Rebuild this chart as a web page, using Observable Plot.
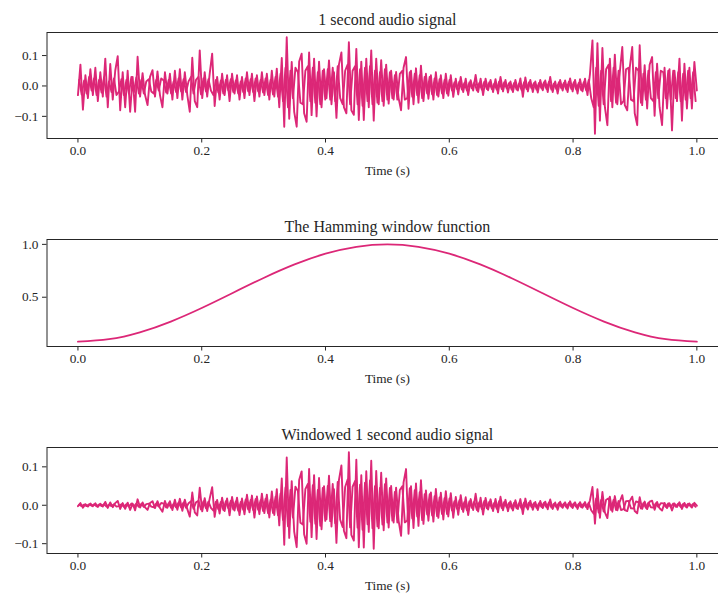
<!DOCTYPE html>
<html><head><meta charset="utf-8">
<script src="https://cdn.jsdelivr.net/npm/d3@7"></script>
<script src="https://cdn.jsdelivr.net/npm/@observablehq/plot@0.6"></script>
<style>
html,body{margin:0;padding:0;background:#fff;overflow:hidden;width:718px;height:594px;}
#chart svg{display:block;overflow:hidden}
</style></head><body><div id="chart"></div>
<script>
// 1 second audio signal: main samples
const audioSignal = [
-0.03, 0.07, -0.078, 0.035, -0.04, 0.055, -0.03, 0.06, -0.05, 0.045, -0.035, 0.09, -0.07, 0.072, -0.045, 0.05, 0.098, -0.08, 0.045, -0.07, 0.05, -0.085, 0.03, -0.085, 0.096,
-0.035, 0.042, -0.03, -0.063, 0.03, 0.052, -0.035, 0.048, -0.03, -0.07, 0.045, -0.025, 0.04, -0.045, 0.05, -0.04, 0.055, -0.045, 0.045, -0.03, -0.085, 0.093, -0.05, -0.07, 0.117,
-0.04, 0.045, -0.035, 0.04, 0.106, -0.066, 0.03, -0.045, 0.04, -0.03, 0.035, -0.05, 0.04, -0.025, 0.035, -0.045, 0.03, -0.04, 0.045, -0.03, 0.04, -0.05, 0.035, -0.035, 0.045,
-0.03, 0.04, -0.045, 0.05, -0.035, 0.057, -0.07, 0.092, -0.134, 0.16, -0.108, 0.079, -0.085, -0.134, 0.08, 0.106, -0.09, -0.118, 0.11, -0.096, 0.09, -0.1, 0.08, -0.07, 0.055,
-0.04, 0.084, -0.06, 0.045, -0.105, 0.07, 0.11, -0.07, -0.09, 0.144, -0.08, -0.095, 0.122, -0.112, 0.08, -0.112, 0.09, -0.07, 0.117, -0.114, 0.09, -0.06, 0.085, -0.065, 0.07,
-0.058, 0.05, -0.045, 0.046, -0.04, -0.08, 0.06, 0.095, -0.075, 0.05, -0.06, 0.058, -0.055, 0.067, -0.05, 0.04, -0.042, 0.035, -0.045, 0.045, -0.035, 0.035, -0.04, 0.04, -0.032,
0.035, -0.036, 0.024, -0.028, 0.03, -0.02, 0.024, -0.03, 0.019, -0.015, 0.036, -0.02, 0.024, -0.03, 0.024, -0.014, 0.02, -0.02, 0.022, -0.025, 0.03, -0.018, 0.02, -0.022, 0.015,
-0.02, 0.02, -0.015, 0.025, -0.036, 0.028, -0.018, 0.02, -0.02, 0.015, -0.022, 0.02, -0.014, 0.018, -0.02, 0.03, -0.02, 0.015, -0.025, 0.02, -0.015, 0.018, -0.02, 0.025, -0.018,
0.02, -0.025, 0.022, -0.018, 0.024, -0.03, 0.04, 0.15, -0.157, 0.141, -0.114, 0.125, -0.07, -0.129, 0.09, -0.07, 0.103, -0.06, 0.045, 0.128, -0.063, -0.08, 0.06, 0.128, -0.09,
-0.129, 0.134, -0.063, 0.068, -0.074, 0.07, 0.095, -0.098, 0.073, -0.07, -0.129, 0.06, -0.074, 0.055, -0.146, 0.05, -0.05, 0.09, -0.114, 0.073, -0.074, 0.06, -0.074, 0.079, -0.015
];
// audio samples lying half-way between the main samples (dense core of the band)
const audioBetween = [
0.02, -0.028, 0.018, -0.025, 0.03, -0.015, 0.025, -0.03, 0.02, -0.022, 0.028, -0.035, 0.015, -0.02, 0.025, -0.03, -0.018, 0.022, -0.03, 0.02, -0.025, 0.03, -0.02, 0.028, -0.025,
0.02, -0.025, 0.015, 0.022, -0.018, -0.025, 0.02, -0.015, 0.025, 0.018, -0.022, 0.02, -0.025, 0.015, -0.02, 0.025, -0.018, 0.022, -0.02, 0.015, 0.03, -0.025, 0.02, 0.03, -0.028,
0.025, -0.018, 0.022, -0.015, -0.03, 0.02, -0.022, 0.018, -0.025, 0.02, -0.015, 0.022, -0.02, 0.018, -0.025, 0.015, -0.02, 0.025, -0.018, 0.022, -0.02, 0.025, -0.018, 0.02, -0.022,
0.025, -0.03, 0.02, -0.028, 0.03, -0.035, 0.04, -0.05, 0.06, -0.07, 0.05, -0.04, 0.06, 0.045, -0.055, -0.06, 0.05, 0.065, -0.05, 0.06, -0.055, 0.045, -0.06, 0.05, -0.045,
0.055, -0.045, 0.06, -0.05, 0.065, -0.04, -0.06, 0.05, 0.07, -0.06, 0.05, 0.065, -0.06, 0.055, -0.065, 0.06, -0.05, 0.065, -0.06, 0.05, -0.055, 0.045, -0.05, 0.055, -0.045,
0.045, -0.04, 0.035, -0.045, 0.04, 0.05, -0.045, -0.04, 0.045, -0.035, 0.04, -0.03, 0.035, -0.04, 0.03, -0.025, 0.03, -0.028, 0.025, -0.03, 0.022, -0.025, 0.02, -0.025, 0.02,
-0.015, 0.012, -0.01, 0.015, -0.012, 0.01, -0.015, 0.012, -0.008, 0.012, -0.015, 0.01, -0.012, 0.014, -0.01, 0.012, -0.01, 0.008, -0.012, 0.015, -0.01, 0.012, -0.008, 0.01, -0.012,
0.01, -0.012, 0.008, -0.014, 0.012, -0.01, 0.012, -0.008, 0.01, -0.012, 0.01, -0.008, 0.012, -0.01, 0.014, -0.012, 0.008, -0.01, 0.012, -0.008, 0.01, -0.012, 0.014, -0.01, 0.012,
-0.012, 0.01, -0.014, 0.012, -0.015, 0.02, -0.04, -0.07, 0.06, -0.065, 0.05, -0.06, 0.055, 0.07, -0.05, 0.06, -0.055, 0.05, -0.06, -0.05, 0.055, 0.06, -0.045, -0.05, 0.06,
0.05, -0.055, 0.04, -0.045, 0.05, -0.04, -0.05, 0.045, -0.04, 0.05, 0.045, -0.04, 0.05, -0.045, 0.05, -0.04, 0.045, -0.05, 0.04, -0.045, 0.05, -0.04, 0.045, -0.05
];

// Hamming window
const windowTimes = [0, 0.05, 0.1, 0.15, 0.2, 0.25, 0.3, 0.35, 0.4, 0.45, 0.5, 0.55, 0.6, 0.65, 0.7, 0.75, 0.8, 0.85, 0.9, 0.95, 1.0];
const hammingWindow = [0.080, 0.103, 0.168, 0.270, 0.398, 0.540, 0.682, 0.810, 0.912, 0.977, 1.000, 0.977, 0.912, 0.810, 0.682, 0.540, 0.398, 0.270, 0.168, 0.103, 0.080];

// Windowed 1 second audio signal: main samples
const windowedSignal = [
-0.0024, 0.0056, -0.0063, 0.0029, -0.0033, 0.0046, -0.0026, 0.0052, -0.0045, 0.0041, -0.0033, 0.0087, -0.007, 0.0075, -0.0049, 0.0056, 0.0114, -0.0097, 0.0057, -0.0092, 0.0069, -0.0122, 0.0045, -0.0132, 0.0155,
-0.0059, 0.0074, -0.0055, -0.012, 0.0059, 0.0107, -0.0075, 0.0107, -0.007, -0.0168, 0.0112, -0.0065, 0.0107, -0.0125, 0.0143, -0.0118, 0.0168, -0.0142, 0.0147, -0.0101, -0.0295, 0.0332, -0.0184, -0.0265, 0.0456,
-0.016, 0.0185, -0.0148, 0.0174, 0.0473, -0.0302, 0.014, -0.0216, 0.0196, -0.0151, 0.018, -0.0263, 0.0215, -0.0137, 0.0196, -0.0257, 0.0175, -0.0238, 0.0273, -0.0185, 0.0252, -0.032, 0.0228, -0.0232, 0.0303,
-0.0205, 0.0278, -0.0318, 0.0359, -0.0254, 0.042, -0.0524, 0.0697, -0.1028, 0.1243, -0.085, 0.0629, -0.0684, -0.1091, 0.0658, 0.0882, -0.0756, -0.1001, 0.0942, -0.0829, 0.0785, -0.088, 0.071, -0.0626, 0.0496,
-0.0363, 0.0767, -0.0552, 0.0417, -0.0978, 0.0656, 0.1036, -0.0663, -0.0857, 0.1378, -0.077, -0.0918, 0.1183, -0.1091, 0.0782, -0.11, 0.0887, -0.0692, 0.1158, -0.113, 0.0896, -0.0598, 0.0848, -0.0649, 0.07,
-0.058, 0.05, -0.0449, 0.0459, -0.0399, -0.0796, 0.0596, 0.0942, -0.0742, 0.0493, -0.059, 0.0568, -0.0537, 0.0651, -0.0484, 0.0386, -0.0403, 0.0334, -0.0427, 0.0424, -0.0328, 0.0326, -0.037, 0.0368, -0.0292,
0.0317, -0.0324, 0.0215, -0.0248, 0.0264, -0.0174, 0.0207, -0.0257, 0.0161, -0.0126, 0.0299, -0.0164, 0.0195, -0.0241, 0.019, -0.011, 0.0155, -0.0153, 0.0166, -0.0186, 0.022, -0.013, 0.0142, -0.0154, 0.0103,
-0.0135, 0.0133, -0.0098, 0.0161, -0.0227, 0.0174, -0.0109, 0.0119, -0.0117, 0.0086, -0.0124, 0.011, -0.0075, 0.0095, -0.0103, 0.0151, -0.0098, 0.0072, -0.0117, 0.0091, -0.0067, 0.0078, -0.0085, 0.0103, -0.0072,
0.0078, -0.0095, 0.0081, -0.0064, 0.0083, -0.0101, 0.013, 0.0474, -0.0479, 0.0417, -0.0326, 0.0346, -0.0187, -0.0333, 0.0224, -0.0168, 0.0239, -0.0134, 0.0096, 0.0262, -0.0124, -0.0152, 0.0109, 0.0224, -0.0151,
-0.0208, 0.0208, -0.0094, 0.0097, -0.0101, 0.0092, 0.012, -0.0119, 0.0085, -0.0078, -0.0139, 0.0062, -0.0074, 0.0053, -0.0137, 0.0046, -0.0045, 0.0078, -0.0097, 0.0061, -0.0061, 0.0049, -0.006, 0.0063, -0.0012
];
// windowed samples lying half-way between the main samples
const windowedBetween = [
0.0016, -0.0023, 0.0015, -0.0021, 0.0025, -0.0013, 0.0022, -0.0026, 0.0018, -0.002, 0.0027, -0.0034, 0.0015, -0.0021, 0.0028, -0.0034, -0.0021, 0.0027, -0.0038, 0.0027, -0.0035, 0.0044, -0.003, 0.0044, -0.0041,
0.0034, -0.0045, 0.0028, 0.0043, -0.0036, -0.0052, 0.0044, -0.0034, 0.0059, 0.0044, -0.0056, 0.0053, -0.0068, 0.0042, -0.0058, 0.0075, -0.0056, 0.0071, -0.0066, 0.0051, 0.0106, -0.0091, 0.0075, 0.0115, -0.0111,
0.0102, -0.0075, 0.0094, -0.0066, -0.0136, 0.0093, -0.0104, 0.0087, -0.0124, 0.0102, -0.0078, 0.0117, -0.0109, 0.01, -0.0142, 0.0087, -0.0118, 0.015, -0.011, 0.0137, -0.0127, 0.0161, -0.0118, 0.0133, -0.0149,
0.0172, -0.021, 0.0142, -0.0202, 0.022, -0.026, 0.0301, -0.0381, 0.0463, -0.0547, 0.0396, -0.032, 0.0485, 0.0368, -0.0455, -0.0502, 0.0422, 0.0554, -0.043, 0.0521, -0.0482, 0.0397, -0.0534, 0.0449, -0.0407,
0.05, -0.0413, 0.0554, -0.0465, 0.0607, -0.0376, -0.0567, 0.0475, 0.0669, -0.0576, 0.0482, 0.0629, -0.0583, 0.0537, -0.0637, 0.059, -0.0493, 0.0643, -0.0595, 0.0497, -0.0548, 0.0449, -0.05, 0.055, -0.045,
0.045, -0.04, 0.0349, -0.0449, 0.0398, 0.0497, -0.0446, -0.0395, 0.0443, -0.0344, 0.0391, -0.0292, 0.034, -0.0386, 0.0288, -0.0239, 0.0285, -0.0265, 0.0235, -0.028, 0.0204, -0.0231, 0.0183, -0.0227, 0.018,
-0.0136, 0.0108, -0.0089, 0.0132, -0.0105, 0.0087, -0.0129, 0.0102, -0.0067, 0.01, -0.0123, 0.0081, -0.0096, 0.0111, -0.0078, 0.0092, -0.0076, 0.006, -0.0088, 0.0109, -0.0071, 0.0084, -0.0055, 0.0068, -0.0081,
0.0067, -0.0079, 0.0052, -0.0089, 0.0075, -0.0061, 0.0072, -0.0047, 0.0058, -0.0068, 0.0055, -0.0043, 0.0064, -0.0052, 0.0071, -0.006, 0.0039, -0.0047, 0.0056, -0.0036, 0.0044, -0.0051, 0.0059, -0.0041, 0.0048,
-0.0046, 0.0037, -0.0051, 0.0042, -0.0051, 0.0066, -0.0128, -0.0218, 0.018, -0.0189, 0.0141, -0.0163, 0.0144, 0.0177, -0.0122, 0.0141, -0.0125, 0.0109, -0.0126, -0.0101, 0.0107, 0.0112, -0.0081, -0.0086, 0.0099,
0.0079, -0.0084, 0.0058, -0.0063, 0.0067, -0.0051, -0.0062, 0.0053, -0.0046, 0.0055, 0.0048, -0.0041, 0.0049, -0.0043, 0.0047, -0.0036, 0.004, -0.0043, 0.0034, -0.0037, 0.0041, -0.0032, 0.0036, -0.004
];

const xTicks = [0, 0.2, 0.4, 0.6, 0.8, 1.0];
const audioYTicks = [-0.1, 0, 0.1];
const hammingYTicks = [0.5, 1.0];
const windowedYTicks = [-0.1, 0, 0.1];
const titles = ["1 second audio signal", "The Hamming window function", "Windowed 1 second audio signal"];
const xLabel = "Time (s)";

const lineColor = "#dc2777";
const inkColor = "#262626";
const fmt = d => d.toFixed(1).replace("-", "\u2212");

// samples are uniformly spaced over the 1 s span; the in-between samples sit half a step later
const step = 1 / (audioSignal.length - 1);
const asMain = vals => vals.map((v, i) => ({t: i * step, v}));
const asBetween = vals => vals.map((v, i) => ({t: (i + 0.5) * step, v}));
const audioData = [asMain(audioSignal), asBetween(audioBetween)];
const windowedData = [asMain(windowedSignal), asBetween(windowedBetween)];
const hammingData = [windowTimes.map((t, i) => ({t, v: hammingWindow[i]}))];

function panel({series, title, yTicks, height, marginTop, marginBottom, curve, strokeWidth}) {
  const all = series.flat();
  const [lo, hi] = d3.extent(all, d => d.v);
  const pad = (hi - lo) * 0.05;
  return Plot.plot({
    width: 718, height,
    marginLeft: 46.5, marginRight: -9.3, marginTop, marginBottom,
    style: {fontFamily: "'Liberation Serif', 'Times New Roman', serif", fontSize: "13.3px", color: inkColor, background: "white", overflow: "hidden"},
    x: {domain: [-0.05, 1.05]},
    y: {domain: [lo - pad, hi + pad]},
    marks: [
      ...series.map(s => Plot.line(s, {x: "t", y: "v", stroke: lineColor, strokeWidth, curve})),
      Plot.frame({stroke: inkColor, strokeWidth: 1}),
      Plot.axisX({ticks: xTicks, tickFormat: fmt, tickSize: 4.5, tickPadding: 3, label: null}),
      Plot.axisY({ticks: yTicks, tickFormat: fmt, tickSize: 4.5, tickPadding: 4, label: null}),
      Plot.text([title], {frameAnchor: "top", dy: -8, lineAnchor: "bottom", fontSize: 16, fill: inkColor}),
      Plot.text([xLabel], {frameAnchor: "bottom", dy: 32, lineAnchor: "middle", fontSize: 13.3, fill: inkColor})
    ]
  });
}

const root = document.getElementById("chart");
root.append(panel({series: audioData, title: titles[0], yTicks: audioYTicks, height: 208, marginTop: 32, marginBottom: 70, curve: "linear", strokeWidth: 1.9}));
root.append(panel({series: hammingData, title: titles[1], yTicks: hammingYTicks, height: 207, marginTop: 31, marginBottom: 69, curve: "natural", strokeWidth: 1.8}));
root.append(panel({series: windowedData, title: titles[2], yTicks: windowedYTicks, height: 179, marginTop: 32, marginBottom: 41, curve: "linear", strokeWidth: 1.9}));
</script></body></html>
